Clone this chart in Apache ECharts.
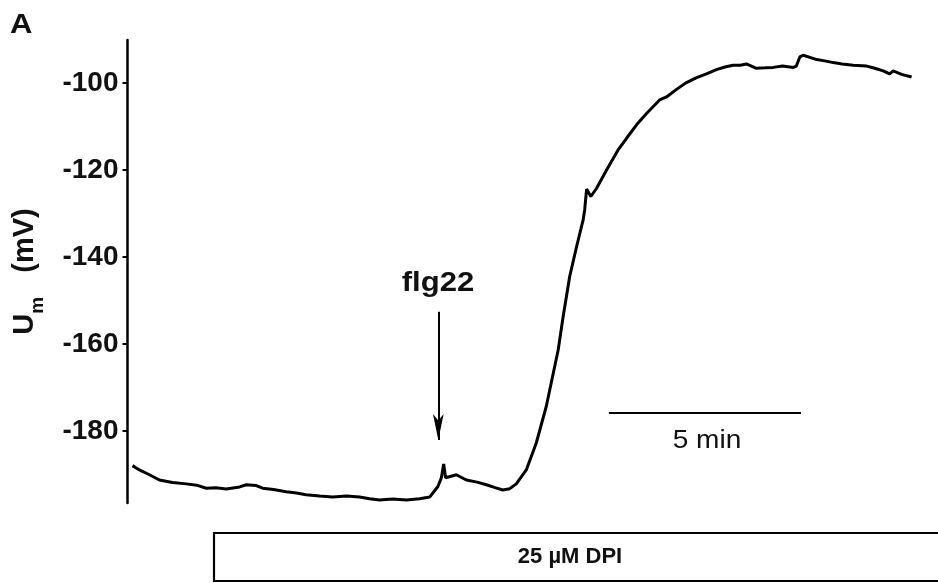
<!DOCTYPE html>
<html>
<head>
<meta charset="utf-8">
<style>html,body{margin:0;padding:0;background:#fff;}#c{width:938px;height:583px;}</style>
<script src="https://cdn.jsdelivr.net/npm/echarts@6/dist/echarts.min.js"></script>
</head>
<body>
<div id="c"></div>
<script>
// time in minutes (relative), membrane potential in mV
const timeMin = [0.13,0.31,0.57,0.83,1.17,1.53,1.80,2.05,2.30,2.57,2.92,3.09,3.35,3.52,3.80,4.13,4.40,4.65,5.00,5.34,5.70,6.04,6.30,6.56,6.90,7.26,7.60,7.87,8.08,8.17,8.23,8.28,8.56,8.82,9.10,9.34,9.55,9.77,9.95,10.12,10.38,10.64,10.90,11.21,11.34,11.51,11.69,11.86,11.90,11.95,12.06,12.21,12.47,12.77,12.99,13.25,13.51,13.85,14.03,14.30,14.55,14.80,15.07,15.33,15.55,15.76,15.95,16.11,16.37,16.60,16.81,17.05,17.33,17.41,17.50,17.59,17.94,18.15,18.37,18.60,18.89,19.24,19.45,19.67,19.84,19.93,20.15,20.41];
const um = [-188.0,-189.0,-190.1,-191.3,-191.9,-192.2,-192.5,-193.2,-193.1,-193.4,-192.9,-192.4,-192.6,-193.2,-193.5,-194.0,-194.3,-194.7,-195.0,-195.2,-195.0,-195.2,-195.6,-195.9,-195.7,-195.9,-195.6,-195.2,-192.8,-190.8,-187.6,-190.8,-190.1,-191.3,-191.8,-192.4,-193.0,-193.6,-193.3,-192.2,-189.0,-182.8,-174.4,-161.4,-153.7,-144.5,-137.6,-131.5,-129.2,-124.4,-126.1,-124.2,-120.0,-115.4,-112.7,-109.6,-107.0,-103.9,-103.2,-101.4,-99.9,-98.8,-97.9,-96.9,-96.3,-95.9,-95.9,-95.6,-96.6,-96.5,-96.4,-96.1,-96.4,-96.1,-94.0,-93.6,-94.6,-94.9,-95.3,-95.6,-95.9,-96.1,-96.6,-97.2,-97.9,-97.2,-98.0,-98.6];
const yTicks = [-180,-160,-140,-120,-100];
const scaleBarStart = 12.53, scaleBarLen = 5, scaleBarLevel = -175.9;
const flgTime = 8.09, arrowTop = -152.6, arrowTip = -182.1;

const chart = echarts.init(document.getElementById('c'));
const FONT = 'Liberation Sans, Arial, sans-serif';
chart.setOption({
  animation: false,
  backgroundColor: '#fff',
  grid: {left: 127.5, right: 26, top: 40, bottom: 80},
  xAxis: {type: 'value', min: 0, max: 20.42, show: false},
  yAxis: {
    type: 'value', min: -196.6, max: -90.1,
    axisLine: {show: true, lineStyle: {color: '#000', width: 2.5}},
    axisTick: {show: true, length: 5, customValues: yTicks, lineStyle: {color: '#000', width: 2}},
    axisLabel: {customValues: yTicks, color: '#111', fontWeight: 'bold', fontSize: 28, fontFamily: FONT, margin: 9},
    splitLine: {show: false},
    name: '{u|U}{s|m}{u|   (mV)}',
    nameLocation: 'middle', nameRotate: 90, nameGap: 88,
    nameTextStyle: {
      rich: {
        u: {fontSize: 29, fontWeight: 'bold', fontFamily: FONT, color: '#111'},
        s: {fontSize: 19, fontWeight: 'bold', fontFamily: FONT, color: '#111', verticalAlign: 'bottom', padding: [0,0,-8,0]}
      }
    }
  },
  series: [{
    type: 'line',
    data: timeMin.map((t, i) => [t, um[i]]),
    showSymbol: false,
    lineStyle: {color: '#000', width: 3},
    markLine: {
      silent: true,
      animation: false,
      label: {show: false},
      data: [
        [{coord: [scaleBarStart, scaleBarLevel], symbol: 'none', lineStyle: {color: '#000', width: 2, type: 'solid'}},
         {coord: [scaleBarStart + scaleBarLen, scaleBarLevel], symbol: 'none'}],
        [{coord: [flgTime, arrowTop], symbol: 'none', lineStyle: {color: '#000', width: 2, type: 'solid'}},
         {coord: [flgTime, arrowTip], symbol: 'arrow', symbolSize: [8, 26]}]
      ]
    }
  }],
  graphic: [
    {type: 'text', left: 10, top: 12, scaleX: 1.15, style: {text: 'A', font: 'bold 27px ' + FONT, fill: '#111'}},
    {type: 'text', x: 438, y: 284, scaleX: 1.15, style: {text: 'flg22', font: 'bold 27px ' + FONT, fill: '#111', align: 'center', verticalAlign: 'middle'}},
    {type: 'text', x: 707, y: 441, scaleX: 1.08, style: {text: '5 min', font: '26px ' + FONT, fill: '#111', align: 'center', verticalAlign: 'middle'}},
    {type: 'rect', shape: {x: 214, y: 533, width: 760, height: 48}, style: {fill: 'none', stroke: '#000', lineWidth: 2.2}},
    {type: 'text', x: 570, y: 557, style: {text: '25 µM DPI', font: 'bold 22px ' + FONT, fill: '#111', align: 'center', verticalAlign: 'middle'}}
  ]
});
</script>
</body>
</html>
